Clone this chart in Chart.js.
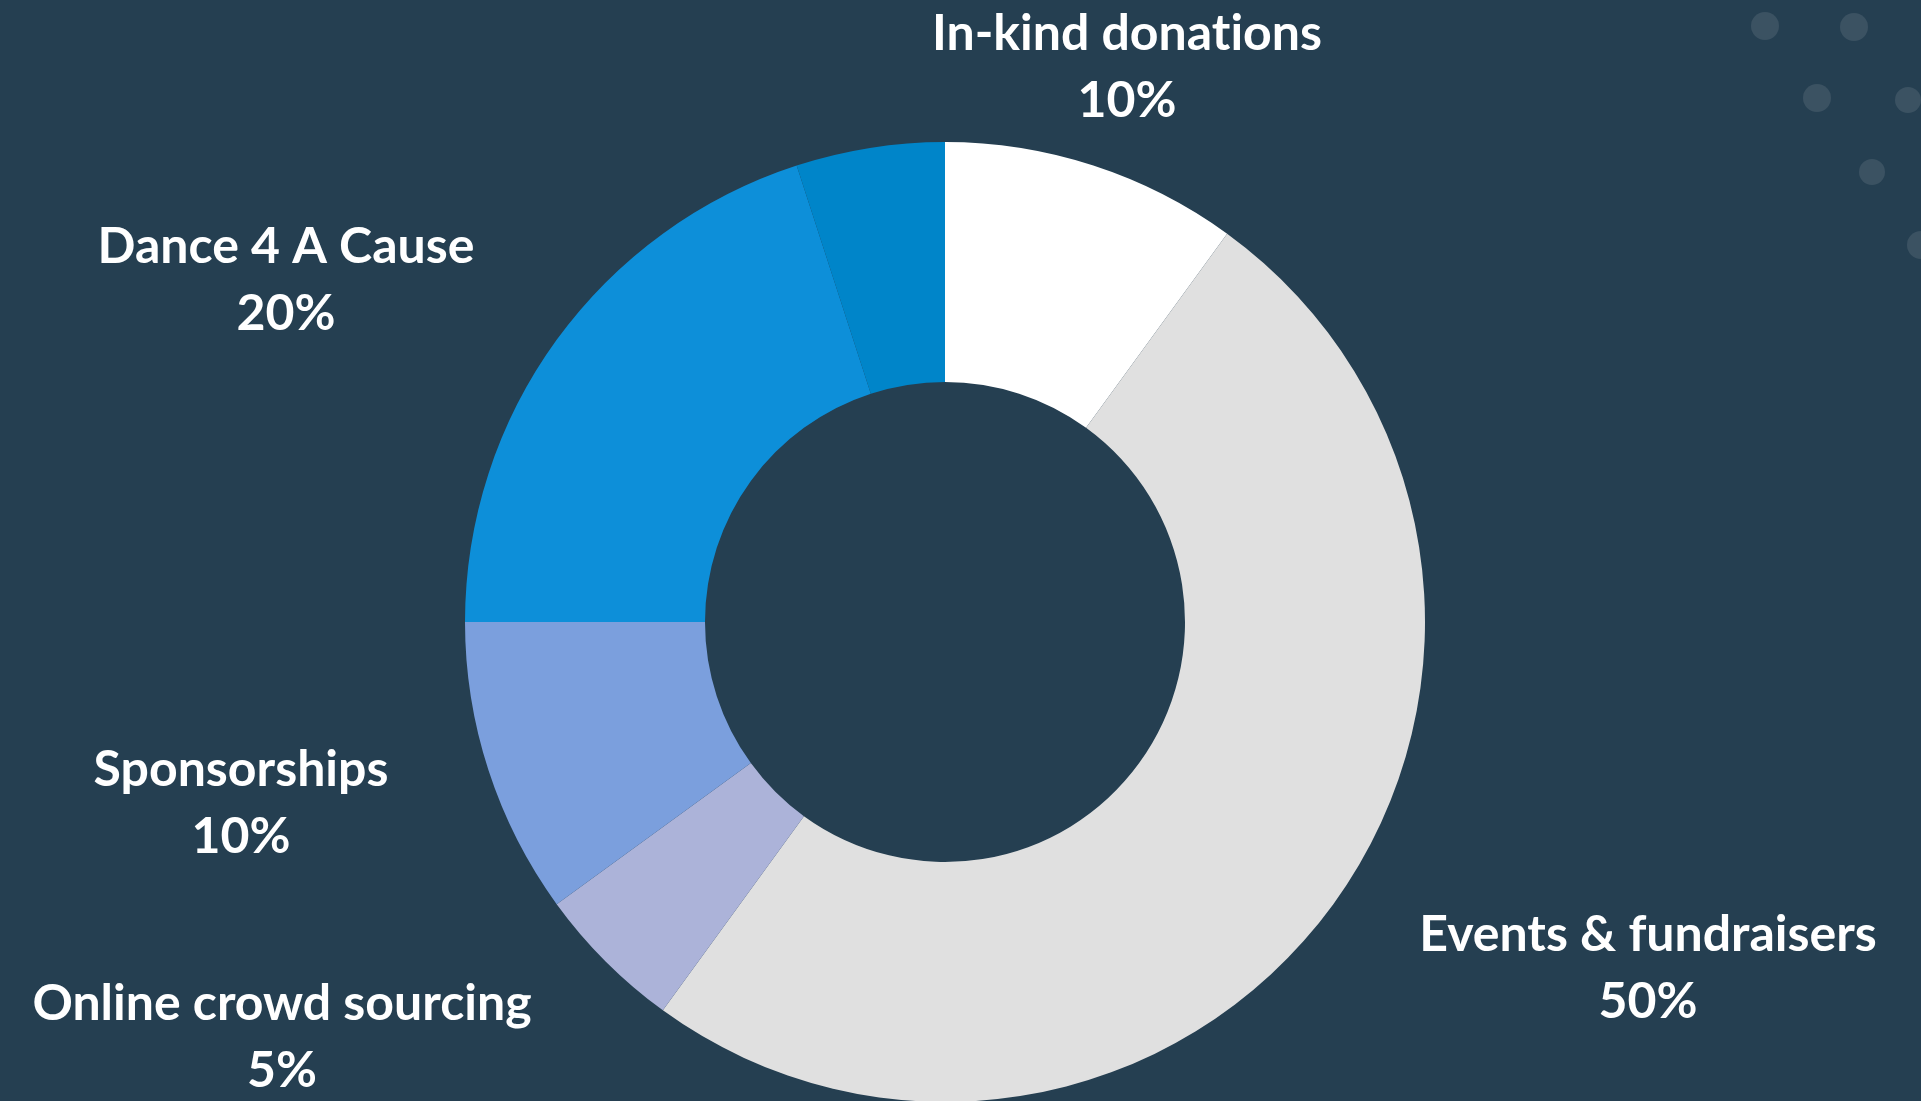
<!DOCTYPE html>
<html>
<head>
<meta charset="utf-8">
<script src="https://cdn.jsdelivr.net/npm/chart.js@4.4.0/dist/chart.umd.min.js"></script>
<style>
  html, body { margin: 0; padding: 0; background: #253f51; overflow: hidden; }
  canvas { display: block; }
</style>
</head>
<body>
<canvas id="chart" width="1921" height="1102"></canvas>
<script>
const categories = ['In-kind donations', 'Events & fundraisers', 'Online crowd sourcing', 'Sponsorships', 'Dance 4 A Cause', ''];
const shares = [10, 50, 5, 10, 20, 5];
const colors = ['#ffffff', '#e0e0e0', '#acb3d9', '#7b9fdd', '#0d8fd9', '#0085c9'];

// where each label sits (centre x, first baseline y); the unlabeled slice has none
const labelSpots = [[1127, 50], [1648, 951], [282, 1020], [241, 786], [286, 263], null];

const dots = [[1765, 26, 14], [1854, 27, 14], [1817, 98, 14], [1908, 100, 13], [1872, 172, 13], [1921, 245, 14]];

const backdrop = {
    id: 'backdrop',
    beforeDraw(chart) {
        const c = chart.ctx;
        c.save();
        c.fillStyle = '#3b5262';
        dots.forEach(([x, y, r]) => {
            c.beginPath();
            c.arc(x, y, r, 0, Math.PI * 2);
            c.fill();
        });
        c.restore();
    }
};

const sliceLabels = {
    id: 'sliceLabels',
    afterDraw(chart) {
        const c = chart.ctx;
        const data = chart.data.datasets[0].data;
        c.save();
        c.fillStyle = '#ffffff';
        c.font = 'bold 50px Lato';
        c.textAlign = 'center';
        c.textBaseline = 'alphabetic';
        chart.data.labels.forEach((name, i) => {
            const spot = labelSpots[i];
            if (!spot || !name) return;
            // zero-width non-joiner keeps Lato from using its "ti" ligature
            c.fillText(name.replace(/ti/g, 't\u200Ci'), spot[0], spot[1]);
            c.fillText(data[i] + '%', spot[0], spot[1] + 67);
        });
        c.restore();
    }
};

new Chart(document.getElementById('chart'), {
    type: 'doughnut',
    data: {
        labels: categories,
        datasets: [{
            data: shares,
            backgroundColor: colors,
            borderWidth: 0
        }]
    },
    options: {
        responsive: false,
        animation: false,
        cutout: '50%',
        layout: { padding: { top: 142, right: 31, left: 0, bottom: 0 } },
        plugins: {
            legend: { display: false },
            tooltip: { enabled: false }
        }
    },
    plugins: [backdrop, sliceLabels]
});
</script>
</body>
</html>
